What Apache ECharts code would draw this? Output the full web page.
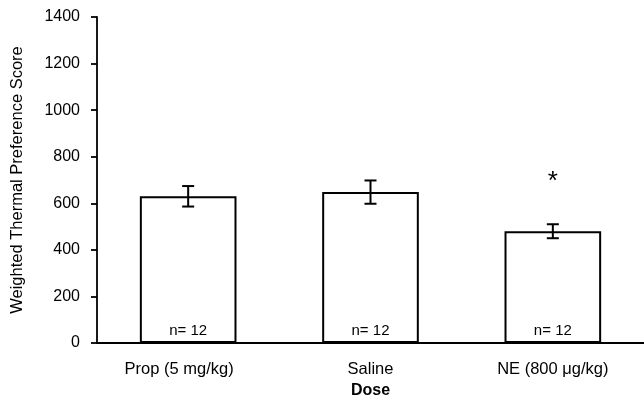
<!DOCTYPE html>
<html><head><meta charset="utf-8">
<script src="https://cdn.jsdelivr.net/npm/echarts@6/dist/echarts.min.js"></script>
<style>html,body{margin:0;padding:0;background:#fff}#c{width:644px;height:406px}</style>
</head><body><div id="c"></div>
<script>
var categories = ['Prop (5 mg/kg)', 'Saline', 'NE (800 \u03bcg/kg)'];
var means = [630, 648, 480];
var errors = [44, 50, 30];
var nLabels = ['n= 12', 'n= 12', 'n= 12'];
var sigMarks = ['', '', '*'];
var yTicks = [0, 200, 400, 600, 800, 1000, 1200, 1400];

var font = 'Liberation Sans, Arial, Helvetica, sans-serif';
var chart = echarts.init(document.getElementById('c'), null, {renderer: 'canvas'});
chart.setOption({
  animation: false,
  backgroundColor: '#fff',
  grid: {left: 97, right: 0, top: 17, bottom: 63, containLabel: false},
  xAxis: {
    type: 'category', data: categories,
    name: 'Dose', nameLocation: 'middle', nameGap: 40,
    nameTextStyle: {fontFamily: font, fontSize: 16, fontWeight: 'bold', color: '#000'},
    axisLine: {lineStyle: {color: '#000', width: 1.8}},
    axisTick: {show: false},
    axisLabel: {fontFamily: font, fontSize: 16.5, color: '#000', margin: 18,
      formatter: function (v, i) { return i === 0 ? '{p|' + v + '}' : '{n|' + v + '}'; },
      rich: {
        p: {fontFamily: font, fontSize: 16.5, color: '#000', padding: [0, 18, 0, 0]},
        n: {fontFamily: font, fontSize: 16.5, color: '#000'}
      }
    }
  },
  yAxis: {
    type: 'value', min: yTicks[0], max: yTicks[yTicks.length - 1], interval: 200,
    name: 'Weighted Thermal Preference Score', nameLocation: 'middle', nameGap: 71,
    nameTextStyle: {fontFamily: font, fontSize: 16.5, color: '#000'},
    axisLine: {show: true, lineStyle: {color: '#000', width: 1.8}},
    axisTick: {show: true, length: 6, lineStyle: {color: '#000', width: 1.8}},
    axisLabel: {fontFamily: font, fontSize: 16, color: '#000', margin: 17,
      formatter: function (v) { return String(v); }},
    splitLine: {show: false}
  },
  series: [
    {
      type: 'bar', data: means, barWidth: '53%',
      itemStyle: {color: '#fff', borderColor: '#000', borderWidth: 2},
      label: {
        show: true, position: 'insideBottom', distance: 5,
        formatter: function (p) { return nLabels[p.dataIndex]; },
        fontFamily: font, fontSize: 15, color: '#000'
      }
    },
    {
      type: 'custom',
      data: means.map(function (m, i) { return [i, m, errors[i]]; }),
      renderItem: function (params, api) {
        var i = api.value(0), m = api.value(1), e = api.value(2);
        var hi = api.coord([i, m + e]), lo = api.coord([i, m - e]);
        var x = hi[0], w = 6;
        var children = [
          {type: 'line', shape: {x1: x, y1: hi[1], x2: x, y2: lo[1]}, style: {stroke: '#000', lineWidth: 2}},
          {type: 'line', shape: {x1: x - w, y1: hi[1], x2: x + w, y2: hi[1]}, style: {stroke: '#000', lineWidth: 2}},
          {type: 'line', shape: {x1: x - w, y1: lo[1], x2: x + w, y2: lo[1]}, style: {stroke: '#000', lineWidth: 2}}
        ];
        var s = sigMarks[i];
        if (s) {
          children.push({type: 'text', x: x, y: hi[1] - 42,
            style: {text: s, fontFamily: font, fontSize: 26, fill: '#000', align: 'center', verticalAlign: 'middle'}});
        }
        return {type: 'group', children: children};
      },
      z: 5
    }
  ]
});
</script></body></html>
